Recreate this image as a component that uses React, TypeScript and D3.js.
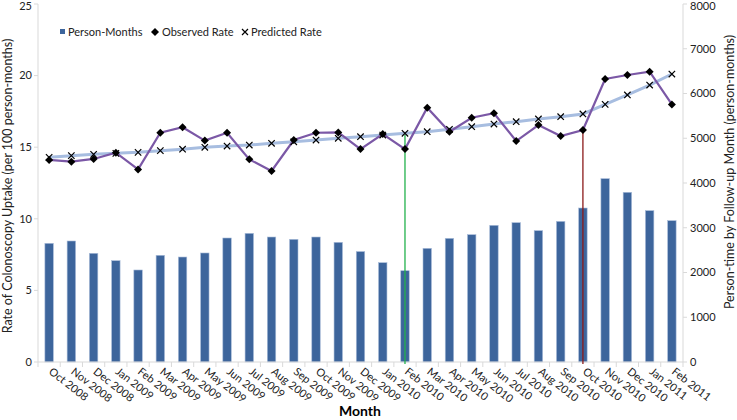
import React from "react";
import * as d3 from "d3";

const months = ["Oct 2008","Nov 2008","Dec 2008","Jan 2009","Feb 2009","Mar 2009","Apr 2009","May 2009","Jun 2009","Jul 2009","Aug 2009","Sep 2009","Oct 2009","Nov 2009","Dec 2009","Jan 2010","Feb 2010","Mar 2010","Apr 2010","May 2010","Jun 2010","Jul 2010","Aug 2010","Sep 2010","Oct 2010","Nov 2010","Dec 2010","Jan 2011","Feb 2011"];
const personMonths = [2652,2704,2429,2264,2056,2384,2346,2436,2771,2875,2793,2741,2793,2674,2468,2219,2040,2540,2763,2845,3054,3113,2935,3142,3441,4097,3792,3382,3158];
const observedRate = [14.11,13.99,14.18,14.62,13.45,16.01,16.39,15.46,16.01,14.15,13.34,15.5,16.01,16.03,14.87,15.92,14.87,17.76,16.08,17.06,17.37,15.43,16.55,15.78,16.2,19.76,20.04,20.27,17.99];
const predictedRate = [14.29,14.41,14.5,14.57,14.64,14.76,14.86,14.99,15.08,15.15,15.27,15.38,15.5,15.62,15.73,15.85,15.97,16.08,16.25,16.43,16.62,16.78,16.97,17.13,17.32,17.99,18.65,19.34,20.11];
const leftTicks = [0,5,10,15,20,25];
const rightTicks = [0,1000,2000,3000,4000,5000,6000,7000,8000];
const markers = [
  { month: "Feb 2010", from: 16.0, color: "#22B14C" },
  { month: "Oct 2010", from: 16.4, color: "#8B1A1A" },
];

const FONT = "Lato, 'Open Sans', sans-serif";

export default function App() {
  const W = 737, H = 420;
  const x0 = 38, x1 = 683, yb = 362, yt = 4;
  const x = d3.scaleBand<string>().domain(months).range([x0, x1]).padding(0);
  const yL = d3.scaleLinear().domain([0, 25]).range([yb, yt]);
  const yR = d3.scaleLinear().domain([0, 8000]).range([yb, yt]);
  const bw = x.bandwidth();
  const cx = (m: string) => (x(m) as number) + bw / 2;
  const barW = bw * 0.38;

  const lineFn = d3.line<number>().x((_, i) => cx(months[i])).y((d) => yL(d));
  const axisColor = "#D9D9D9";
  const textColor = "#222";

  return (
    <svg width={W} height={H} style={{ position: "absolute", left: 0, top: 0, background: "#fff" }} fontFamily={FONT}>
      {personMonths.map((v, i) => (
        <rect key={"b" + i} x={cx(months[i]) - barW / 2} y={yR(v)} width={barW} height={yb - yR(v)}
          fill="#3D659C" stroke="#A9BCD9" strokeWidth={0.6} />
      ))}
      <line x1={x0} x2={x0} y1={yt} y2={yb} stroke={axisColor} />
      <line x1={x1} x2={x1} y1={yt} y2={yb} stroke={axisColor} />
      <line x1={x0} x2={x1} y1={yb} y2={yb} stroke={axisColor} />
      {leftTicks.map((t) => (
        <g key={"lt" + t}>
          <line x1={x0 - 4} x2={x0} y1={yL(t)} y2={yL(t)} stroke={axisColor} />
          <text x={x0 - 6} y={Math.max(yL(t), 6)} dy="0.35em" textAnchor="end" fontSize={11} fill={textColor}>{t}</text>
        </g>
      ))}
      {rightTicks.map((t) => (
        <g key={"rt" + t}>
          <line x1={x1} x2={x1 + 4} y1={yR(t)} y2={yR(t)} stroke={axisColor} />
          <text x={x1 + 7} y={Math.max(yR(t), 6)} dy="0.35em" textAnchor="start" fontSize={11} fill={textColor}>{t}</text>
        </g>
      ))}
      {months.map((m, i) => (
        <line key={"xt" + i} x1={x(m) as number} x2={x(m) as number} y1={yb} y2={yb + 5} stroke={axisColor} />
      ))}
      <line x1={x1} x2={x1} y1={yb} y2={yb + 5} stroke={axisColor} />
      {months.map((m) => (
        <text key={"xl" + m} transform={`translate(${cx(m) - 1},${yb + 11}) rotate(38)`} fontSize={11} fill={textColor} textAnchor="start">{m}</text>
      ))}
      {markers.map((mk) => (
        <line key={mk.month} x1={cx(mk.month)} x2={cx(mk.month)} y1={yL(mk.from)} y2={yb + 2} stroke={mk.color} strokeWidth={1.3} />
      ))}
      <path d={lineFn(predictedRate) as string} fill="none" stroke="#A7BDE0" strokeWidth={3} />
      <path d={lineFn(observedRate) as string} fill="none" stroke="#7B58A6" strokeWidth={2.2} />
      {observedRate.map((v, i) => {
        const px = cx(months[i]), py = yL(v), s = 4;
        return <path key={"o" + i} d={`M${px},${py - s}L${px + s},${py}L${px},${py + s}L${px - s},${py}Z`} fill="#000" />;
      })}
      {predictedRate.map((v, i) => {
        const px = cx(months[i]), py = yL(v), s = 3.2;
        return <path key={"p" + i} d={`M${px - s},${py - s}L${px + s},${py + s}M${px - s},${py + s}L${px + s},${py - s}`} stroke="#000" strokeWidth={1.2} />;
      })}
      <g fontSize={11} fill={textColor}>
        <rect x={60} y={29} width={5} height={5} fill="#3D659C" />
        <text x={68} y={32} dy="0.35em">Person-Months</text>
        <path d="M155,28L159,32L155,36L151,32Z" fill="#000" />
        <text x={162} y={32} dy="0.35em">Observed Rate</text>
        <path d="M242,29L248,35M242,35L248,29" stroke="#000" strokeWidth={1.2} />
        <text x={251} y={32} dy="0.35em">Predicted Rate</text>
      </g>
      <text transform={`translate(12,186) rotate(-90)`} textAnchor="middle" fontSize={12.5} fill={textColor}>Rate of Colonoscopy Uptake (per 100 person-months)</text>
      <text transform={`translate(734,172) rotate(-90)`} textAnchor="middle" fontSize={12.5} fill={textColor}>Person-time by Follow-up Month (person-months)</text>
      <text x={360} y={416} textAnchor="middle" fontSize={14} fontWeight="bold" fill="#000">Month</text>
    </svg>
  );
}
